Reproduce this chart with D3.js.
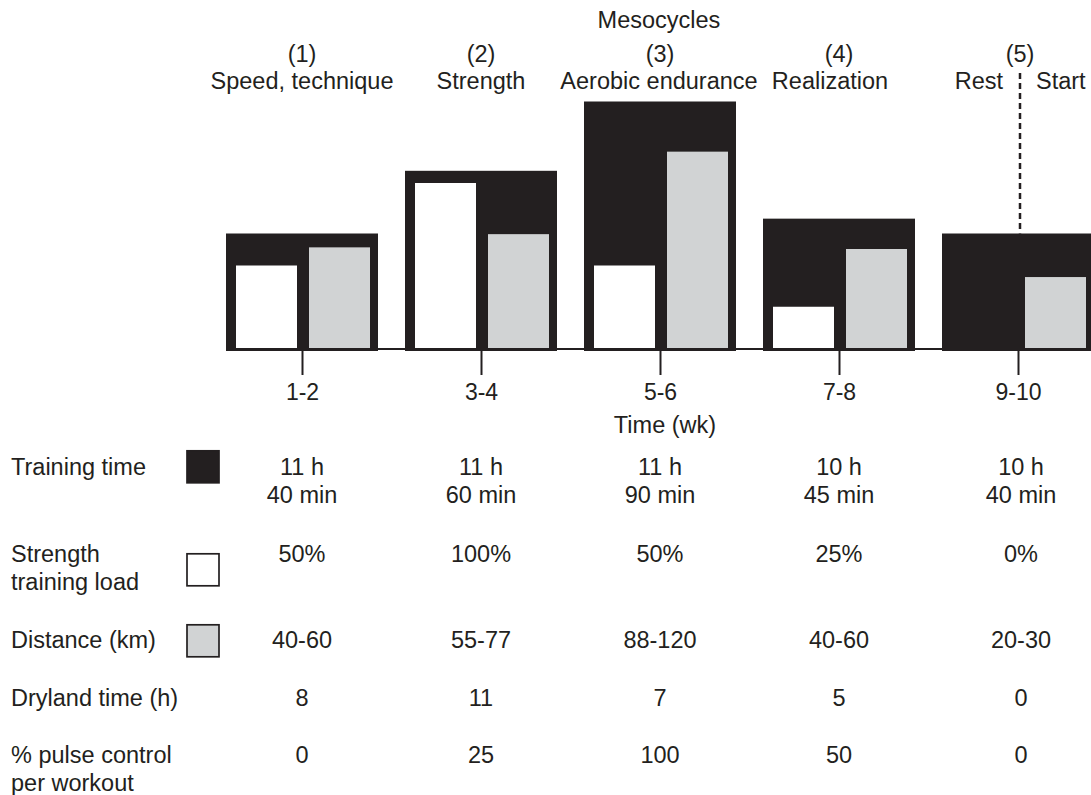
<!DOCTYPE html>
<html>
<head>
<meta charset="utf-8">
<script src="https://cdn.jsdelivr.net/npm/d3@7/dist/d3.min.js"></script>
<style>
  html, body { margin: 0; padding: 0; background: #fff; }
  svg { display: block; }
  text { font-family: "Liberation Sans", Arial, Helvetica, sans-serif; fill: #231f20; }
</style>
</head>
<body>
<script>
// ---------- data ----------
const weeks = ["1-2", "3-4", "5-6", "7-8", "9-10"];
const mesoNumbers = ["(1)", "(2)", "(3)", "(4)", "(5)"];
const mesoNames = ["Speed, technique", "Strength", "Aerobic endurance", "Realization", "Rest|Start"];
// schematic bar heights (same unit as strength %)
const trainingLevel = [70, 108, 150, 79, 70];
const strengthLoad = [50, 100, 50, 25, 0];
const distanceLevel = [61, 69, 119, 60, 43];
// table rows
const trainingTime = [["11 h", "40 min"], ["11 h", "60 min"], ["11 h", "90 min"], ["10 h", "45 min"], ["10 h", "40 min"]];
const strengthText = ["50%", "100%", "50%", "25%", "0%"];
const distanceText = ["40-60", "55-77", "88-120", "40-60", "20-30"];
const drylandText = ["8", "11", "7", "5", "0"];
const pulseText = ["0", "25", "100", "50", "0"];
const rowLabels = [["Training time"], ["Strength", "training load"], ["Distance (km)"], ["Dryland time (h)"], ["% pulse control", "per workout"]];

// ---------- layout ----------
const W = 1091, H = 795;
const INK = "#231f20", GRAY = "#d1d3d4";
const FS = 23.5;

const svg = d3.select("body").append("svg").attr("width", W).attr("height", H);

const x = d3.scalePoint().domain(weeks).range([302, 1018]);
const y = d3.scaleLinear().domain([0, 100]).range([349, 184]);

const groupW = 152, subW = 61;

const g = svg.append("g");

// black training-time bars
g.selectAll("rect.black").data(weeks).join("rect")
  .attr("class", "black")
  .attr("x", d => x(d) - groupW / 2)
  .attr("y", (d, i) => y(trainingLevel[i]))
  .attr("width", groupW)
  .attr("height", (d, i) => y(0) + 2 - y(trainingLevel[i]))
  .attr("fill", INK);

// white strength bars
g.selectAll("rect.white").data(weeks).join("rect")
  .attr("class", "white")
  .attr("x", d => x(d) - 66)
  .attr("y", (d, i) => y(strengthLoad[i]) - 1)
  .attr("width", subW)
  .attr("height", (d, i) => Math.max(0, y(0) - y(strengthLoad[i])))
  .attr("fill", "#fff");

// gray distance bars
g.selectAll("rect.gray").data(weeks).join("rect")
  .attr("class", "gray")
  .attr("x", d => x(d) + 7)
  .attr("y", (d, i) => y(distanceLevel[i]) - 1)
  .attr("width", subW)
  .attr("height", (d, i) => y(0) - y(distanceLevel[i]))
  .attr("fill", GRAY);

// x axis
const axis = d3.axisBottom(x).tickSize(26).tickSizeOuter(0).tickPadding(4);
const ax = svg.append("g").attr("transform", `translate(0,${y(0)})`).call(axis);
ax.select(".domain").remove();
ax.selectAll(".tick line").attr("stroke", INK).attr("stroke-width", 2);
ax.selectAll(".tick text").attr("font-size", 23).attr("fill", INK)
  .attr("font-family", "Liberation Sans, Arial, sans-serif").attr("dy", "0.9em");
svg.append("line")
  .attr("x1", x(weeks[0]) - groupW / 2).attr("x2", W)
  .attr("y1", y(0)).attr("y2", y(0))
  .attr("stroke", INK).attr("stroke-width", 2);

svg.append("text").attr("x", 665).attr("y", 433).attr("text-anchor", "middle")
  .attr("font-size", FS).text("Time (wk)");

// dashed rest/start divider
const xLast = x(weeks[4]) + 2;
svg.append("line")
  .attr("x1", xLast).attr("x2", xLast)
  .attr("y1", 73).attr("y2", y(trainingLevel[4]))
  .attr("stroke", INK).attr("stroke-width", 2.5)
  .attr("stroke-dasharray", "6,4");

// top labels
svg.append("text").attr("x", 659).attr("y", 28).attr("text-anchor", "middle")
  .attr("font-size", FS).text("Mesocycles");
const nameDx = [0, 0, -1, -9, 0];
weeks.forEach((w, i) => {
  svg.append("text").attr("x", x(w) + (i === 4 ? 2 : 0)).attr("y", 62).attr("text-anchor", "middle")
    .attr("font-size", FS).text(mesoNumbers[i]);
  if (i < 4) {
    svg.append("text").attr("x", x(w) + nameDx[i]).attr("y", 89).attr("text-anchor", "middle")
      .attr("font-size", FS).text(mesoNames[i]);
  } else {
    const parts = mesoNames[i].split("|");
    svg.append("text").attr("x", xLast - 17).attr("y", 89).attr("text-anchor", "end")
      .attr("font-size", FS).text(parts[0]);
    svg.append("text").attr("x", xLast + 16).attr("y", 89).attr("text-anchor", "start")
      .attr("font-size", FS).text(parts[1]);
  }
});

// ---------- table ----------
const rowBase = [475, 562, 648, 706, 763];
const lineH = 28;
const rowValues = [trainingTime, strengthText.map(s => [s]), distanceText.map(s => [s]),
  drylandText.map(s => [s]), pulseText.map(s => [s])];

rowLabels.forEach((lines, r) => {
  lines.forEach((t, k) => {
    svg.append("text").attr("x", 11).attr("y", rowBase[r] + k * lineH)
      .attr("font-size", FS).text(t);
  });
  rowValues[r].forEach((vals, i) => {
    vals.forEach((t, k) => {
      svg.append("text").attr("x", x(weeks[i]) + (i === 4 ? 3 : 0)).attr("y", rowBase[r] + k * lineH)
        .attr("text-anchor", "middle").attr("font-size", FS).text(t);
    });
  });
});

// legend swatches
const swatches = [{ fill: INK, y: 450 }, { fill: "#fff", y: 553 }, { fill: GRAY, y: 624 }];
svg.selectAll("rect.sw").data(swatches).join("rect")
  .attr("class", "sw")
  .attr("x", 187).attr("y", d => d.y + 0.8)
  .attr("width", 32).attr("height", 32)
  .attr("fill", d => d.fill)
  .attr("stroke", INK).attr("stroke-width", 1.7);
</script>
</body>
</html>
